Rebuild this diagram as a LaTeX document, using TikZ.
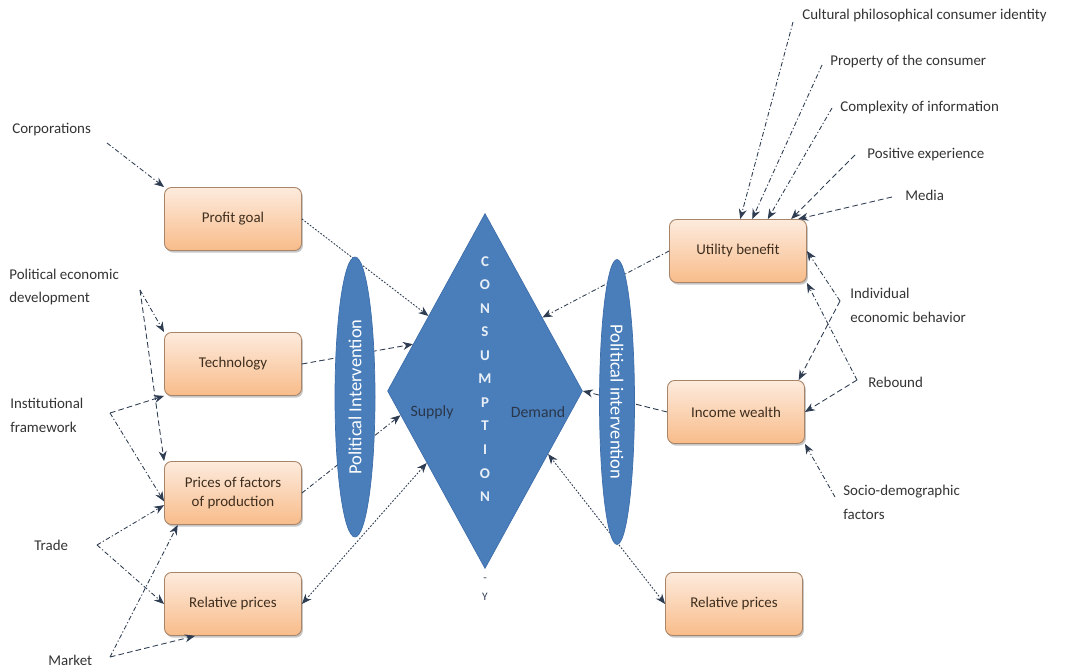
\documentclass[tikz,border=0pt]{standalone}
\usepackage{fontspec}
\setmainfont{Carlito}
\definecolor{boxtop}{HTML}{FDEBDD}
\definecolor{boxbottom}{HTML}{F8BC8A}
\definecolor{boxline}{HTML}{A88468}
\definecolor{boxtext}{HTML}{3F2E1E}
\definecolor{consblue}{HTML}{4A7EBB}
\definecolor{consline}{HTML}{3D6EAA}
\definecolor{linkgray}{HTML}{2F3D52}
\definecolor{labelgray}{HTML}{333333}
\usetikzlibrary{arrows.meta,positioning,shapes.geometric,shadows}
\tikzset{
    factorbox/.style={
        draw=boxline,
        top color=boxtop,
        bottom color=boxbottom,
        rounded corners=4pt,
        line width=0.5pt,
        minimum width=2.74cm,
        minimum height=1.26cm,
        align=center,
        text=boxtext,
        font=\fontsize{8.5}{10.5}\selectfont,
        drop shadow={opacity=0.45,shadow xshift=0.8pt,shadow yshift=-1.2pt}
    },
    consdiamond/.style={
        shape=diamond,
        fill=consblue,
        draw=consline,
        line width=0.4pt,
        inner sep=0pt,
        minimum width=3.9cm,
        minimum height=7.1cm
    },
    politicalellipse/.style={
        shape=ellipse,
        fill=consblue,
        draw=consline,
        line width=0.4pt,
        inner sep=0pt,
        text=white,
        font=\fontsize{10.5}{12}\selectfont
    },
    sidelabel/.style={
        anchor=west,
        align=left,
        inner sep=0pt,
        text=labelgray,
        font=\fontsize{8.5}{13.6}\selectfont
    },
    flowlabel/.style={
        inner sep=0pt,
        text=linkgray!90!black,
        font=\fontsize{9}{11}\selectfont
    },
    linkdash/.style={
        -{Stealth[length=2mm,width=1.6mm]},
        draw=linkgray,
        line width=0.5pt,
        dash pattern=on 3.2pt off 1.8pt
    },
    linkdashdot/.style={
        -{Stealth[length=2mm,width=1.6mm]},
        draw=linkgray,
        line width=0.5pt,
        dash pattern=on 2.6pt off 1.3pt on 0.7pt off 1.3pt
    },
    linkdot/.style={
        -{Stealth[length=2mm,width=1.6mm]},
        draw=linkgray,
        line width=0.5pt,
        dash pattern=on 1pt off 0.9pt
    }
}

\begin{document}
\begin{tikzpicture}[x=0.02cm,y=-0.02cm]
    \useasboundingbox (0,0) rectangle (1087,671);

    % supply side
    \node[factorbox] (profit) at (233,219) {Profit goal};
    \node[factorbox] (tech) at (233,364) {Technology};
    \node[factorbox] (prices) at (233,493) {Prices of factors\\of production};
    \node[factorbox] (relleft) at (233,604) {Relative prices};

    % demand side
    \node[factorbox] (utility) at (738,251) {Utility benefit};
    \node[factorbox] (income) at (736,412) {Income wealth};
    \node[factorbox] (relright) at (734,604) {Relative prices};

    \node[sidelabel] (corp) at (12,130) {Corporations};
    \node[sidelabel] (ped) at (9,287) {Political economic\\development};
    \node[sidelabel] (inst) at (10,415) {Institutional\\framework};
    \node[sidelabel] (trade) at (34,545) {Trade};
    \node[sidelabel] (market) at (48,660) {Market};

    \node[sidelabel] (cult) at (802,16) {Cultural philosophical consumer identity};
    \node[sidelabel] (prop) at (830,62) {Property of the consumer};
    \node[sidelabel] (compl) at (840,108) {Complexity of information};
    \node[sidelabel] (posexp) at (867,155) {Positive experience};
    \node[sidelabel] (media) at (905,195) {Media};
    \node[sidelabel] (indiv) at (850,305) {Individual\\economic behavior};
    \node[sidelabel] (rebound) at (868,382) {Rebound};
    \node[sidelabel] (socio) at (843,502) {Socio-demographic\\factors};

    \coordinate (corppt) at (107,143);
    \coordinate (pedpt) at (140,290);
    \coordinate (instpt) at (110,413);
    \coordinate (tradept) at (97,545);
    \coordinate (marketpt) at (110,657);
    \coordinate (cultpt) at (793,22);
    \coordinate (proppt) at (822,65);
    \coordinate (complpt) at (832,108);
    \coordinate (posexppt) at (855,155);
    \coordinate (mediapt) at (892,197);
    \coordinate (indivpt) at (840,301);
    \coordinate (reboundpt) at (857,380);
    \coordinate (sociopt) at (835,497);

    \node[consdiamond] (consumption) at (485,391) {};

    % links into the boxes
    \draw[linkdashdot] (corppt) -- (profit.north west);
    \draw[linkdashdot] (pedpt) -- (tech.north west);
    \draw[linkdash] (pedpt) -- (prices.north west);
    \draw[linkdash] (instpt) -- (tech.south west);
    \draw[linkdashdot] (instpt) -- (prices.187);
    \draw[linkdashdot] (tradept) -- (prices.190);
    \draw[linkdashdot] (tradept) -- (relleft.west);
    \draw[linkdashdot] (marketpt) -- (prices.210);
    \draw[linkdash] (marketpt) -- (relleft.220);

    \draw[linkdashdot] (cultpt) -- (utility.86);
    \draw[linkdashdot] (proppt) -- (utility.66);
    \draw[linkdashdot] (complpt) -- (utility.47);
    \draw[linkdash] (posexppt) -- (utility.31);
    \draw[linkdash] (mediapt) -- (utility.28);
    \draw[linkdashdot] (indivpt) -- (utility.east);
    \draw[linkdash] (indivpt) -- (income.27);
    \draw[linkdashdot] (reboundpt) -- (utility.south east);
    \draw[linkdash] (reboundpt) -- (income.east);
    \draw[linkdashdot] (sociopt) -- (income.south east);

    % links into consumption
    \draw[linkdot] (profit.east) -- (consumption.127);
    \draw[linkdash] (tech.east) -- (consumption.147);
    \draw[linkdashdot] (prices.east) -- (consumption.196);
    \draw[linkdot,{Stealth[length=2mm,width=1.6mm]}-{Stealth[length=2mm,width=1.6mm]}] (relleft.east) -- (consumption.231);
    \draw[linkdashdot] (utility.west) -- (consumption.52);
    \draw[linkdash] (income.west) -- (consumption.east);
    \draw[linkdot,{Stealth[length=2mm,width=1.6mm]}-{Stealth[length=2mm,width=1.6mm]}] (relright.west) -- (consumption.315);

    \node[politicalellipse,rotate=90,minimum width=5.6cm,minimum height=0.8cm] (polleft) at (355,397) {Political Intervention};
    \node[politicalellipse,rotate=-90,minimum width=5.7cm,minimum height=0.7cm] (polright) at (617,402) {Political intervention};

    \node[align=center,inner sep=0pt,text=white!88!consblue,font=\bfseries\fontsize{8.5}{13.4}\selectfont] (conslabel) at (485,379) {C\\O\\N\\S\\U\\M\\P\\T\\I\\O\\N};
    \node[flowlabel] (supply) at (432,412) {Supply};
    \node[flowlabel] (demand) at (538,412) {Demand};
    \node[inner sep=0pt,text=linkgray,font=\fontsize{6.5}{11}\selectfont,align=center] (constail) at (485,589) {-\\Y};
\end{tikzpicture}
\end{document}
